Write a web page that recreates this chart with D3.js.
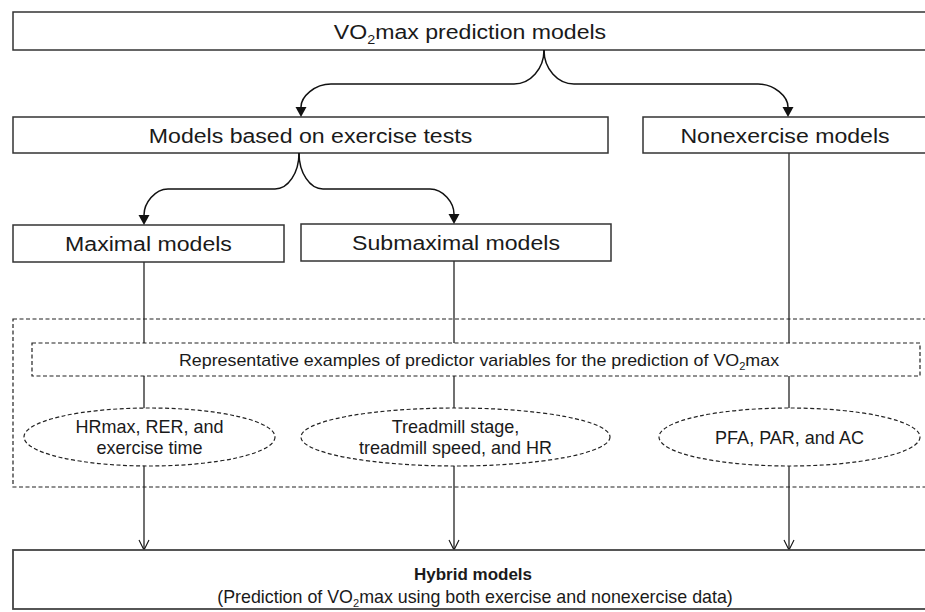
<!DOCTYPE html>
<html><head><meta charset="utf-8">
<script src="https://cdn.jsdelivr.net/npm/d3@7"></script>
<style>html,body{margin:0;padding:0;background:#fff;overflow:hidden}</style>
</head><body><svg id="c" width="925" height="612"></svg>
<script>
// ---------- content ----------
const boxLabels = ["VO_2max prediction models", "Models based on exercise tests", "Nonexercise models", "Maximal models", "Submaximal models"];
const panelLabels = ["Representative examples of predictor variables for the prediction of VO_2max"];
const predictorLabels = [["HRmax, RER, and", "exercise time"], ["Treadmill stage,", "treadmill speed, and HR"], ["PFA, PAR, and AC"]];
const hybridTitle = ["Hybrid models"];
const hybridSubtitle = ["(Prediction of VO_2max using both exercise and nonexercise data)"];
const branchLinks = [[0, 1], [0, 2], [1, 3], [1, 4]];
const streamSources = [3, 4, 2];

// ---------- layout ----------
const W = 925, H = 612;
const boxGeom = [
  {x0: 13, x1: 927, y0: 12, y1: 50},
  {x0: 13, x1: 608, y0: 117, y1: 153},
  {x0: 643, x1: 927, y0: 117, y1: 153},
  {x0: 13, x1: 284, y0: 225, y1: 262},
  {x0: 301, x1: 611, y0: 224, y1: 261}
];
const splitX = {0: 544, 1: 299};
const armX = {1: 301, 2: 788, 3: 144, 4: 454};
const braceY = {0: 84, 1: 189};
const streamX = [144, 454, 789];
const panel = {x0: 13, x1: 935, y0: 319, y1: 487};
const inner = {x0: 32, x1: 920, y0: 343, y1: 376};
const ell = [{cx: 149.5, rx: 125.5}, {cx: 455.5, rx: 154.5}, {cx: 789.5, rx: 130.5}];
const ellCY = 437, ellRY = 29;
const hybrid = {x0: 13, x1: 935, y0: 550, y1: 609};

const FONT = "'Liberation Sans', Arial, Helvetica, sans-serif";
const svg = d3.select("#c");
svg.append("rect").attr("width", W).attr("height", H).attr("fill", "#fff");

function addText(g, str, opts) {
  const t = g.append("text")
    .attr("text-anchor", "middle")
    .attr("font-family", FONT)
    .attr("font-size", opts.size)
    .attr("font-weight", opts.weight || "normal")
    .attr("fill", "#1a1a1a")
    .attr("transform", `translate(${opts.x},${opts.y}) scale(${opts.sx || 1},1)`);
  const parts = str.split("_2");
  parts.forEach((p, i) => {
    if (i > 0) {
      t.append("tspan").attr("font-size", opts.size * 0.62).attr("dy", opts.size * 0.28).text("2");
      t.append("tspan").attr("dy", -opts.size * 0.28).text(p);
    } else t.append("tspan").text(p);
  });
  return t;
}

// ---------- streams (vertical lines to hybrid) ----------
const streamG = svg.append("g");
streamSources.forEach((src, i) => {
  const xx = streamX[i];
  streamG.append("line").attr("x1", xx).attr("x2", xx)
    .attr("y1", boxGeom[src].y1).attr("y2", hybrid.y0)
    .attr("stroke", "#111").attr("stroke-width", 1.2);
  streamG.append("path")
    .attr("d", `M${xx - 5},${hybrid.y0 - 10} L${xx},${hybrid.y0} L${xx + 5},${hybrid.y0 - 10}`)
    .attr("fill", "none").attr("stroke", "#111").attr("stroke-width", 1.1);
});

// ---------- dashed panel ----------
const dash = "4,2.5";
svg.append("rect").attr("x", panel.x0).attr("y", panel.y0)
  .attr("width", panel.x1 - panel.x0).attr("height", panel.y1 - panel.y0)
  .attr("fill", "none").attr("stroke", "#222").attr("stroke-width", 1.2).attr("stroke-dasharray", dash);

svg.append("rect").attr("x", inner.x0).attr("y", inner.y0)
  .attr("width", inner.x1 - inner.x0).attr("height", inner.y1 - inner.y0)
  .attr("fill", "#fff").attr("stroke", "#222").attr("stroke-width", 1.2).attr("stroke-dasharray", dash);
addText(svg, panelLabels[0], {x: (inner.x0 + inner.x1) / 2 + 3, y: 365.5, size: 17, sx: 1.05});

// ellipses
const eg = svg.selectAll("g.pred").data(predictorLabels).join("g").attr("class", "pred");
eg.append("ellipse")
  .attr("cx", (d, i) => ell[i].cx).attr("cy", ellCY)
  .attr("rx", (d, i) => ell[i].rx).attr("ry", ellRY)
  .attr("fill", "#fff").attr("stroke", "#222").attr("stroke-width", 1.2).attr("stroke-dasharray", dash);
eg.each(function(d, i) {
  const g = d3.select(this);
  const n = d.length;
  d.forEach((line, j) => {
    const y = n === 1 ? 443.5 : 432.5 + j * 21.5;
    addText(g, line, {x: ell[i].cx, y: y, size: 17.5, sx: 1.03});
  });
});

// ---------- hybrid box ----------
svg.append("rect").attr("x", hybrid.x0).attr("y", hybrid.y0)
  .attr("width", hybrid.x1 - hybrid.x0).attr("height", hybrid.y1 - hybrid.y0)
  .attr("fill", "#fff").attr("stroke", "#444").attr("stroke-width", 1.8);
addText(svg, hybridTitle[0], {x: 473, y: 580, size: 17, weight: "bold", sx: 1.0});
addText(svg, hybridSubtitle[0], {x: 475, y: 602.5, size: 17.5, sx: 1.02});

// ---------- boxes ----------
const bg = svg.selectAll("g.box").data(boxLabels).join("g").attr("class", "box");
bg.append("rect")
  .attr("x", (d, i) => boxGeom[i].x0).attr("y", (d, i) => boxGeom[i].y0)
  .attr("width", (d, i) => boxGeom[i].x1 - boxGeom[i].x0)
  .attr("height", (d, i) => boxGeom[i].y1 - boxGeom[i].y0)
  .attr("fill", "#fff").attr("stroke", "#333").attr("stroke-width", 1.5);
bg.each(function(d, i) {
  const b = boxGeom[i];
  addText(d3.select(this), d, {x: (b.x0 + b.x1) / 2, y: (b.y0 + b.y1) / 2 + 7.5, size: 21, sx: 1.1});
});

// ---------- brace connectors ----------
const k = 0.55;
branchLinks.forEach(([p, c]) => {
  const sx = splitX[p], sy = boxGeom[p].y1, hy = braceY[p];
  const tx = armX[c], ty = boxGeom[c].y0;
  const dir = tx < sx ? -1 : 1;
  const r1 = p === 0 ? 30 : 24, r2 = p === 0 ? 30 : 24;
  const ay = ty - 10;
  const d = `M${sx},${sy} C${sx},${sy + k * (hy - sy)} ${sx + dir * r1 * (1 - k)},${hy} ${sx + dir * r1},${hy}` +
    ` L${tx - dir * r2},${hy} C${tx - dir * r2 * (1 - k)},${hy} ${tx},${hy + k * (ay - hy)} ${tx},${ay}`;
  svg.append("path").attr("d", d).attr("fill", "none").attr("stroke", "#111").attr("stroke-width", 1.5);
  svg.append("path").attr("d", `M${tx - 5.5},${ay} L${tx},${ty} L${tx + 5.5},${ay} Z`).attr("fill", "#111");
});
</script></body></html>
